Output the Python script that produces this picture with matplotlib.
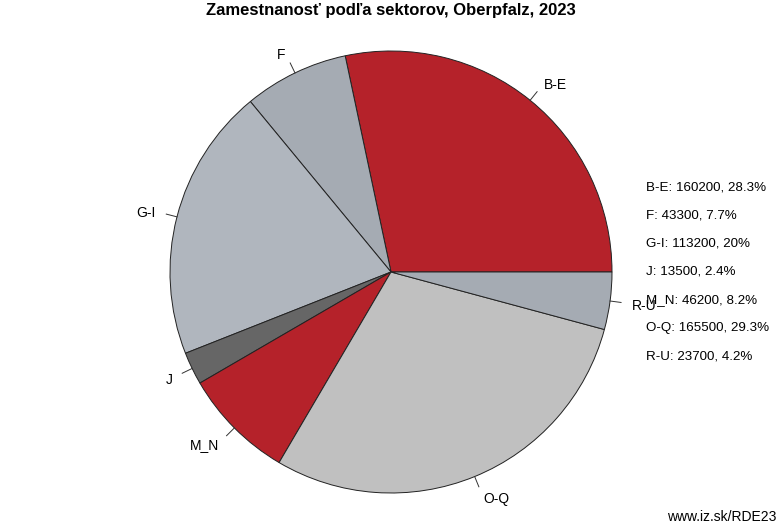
import numpy as np
import matplotlib
matplotlib.use("Agg")
import matplotlib.pyplot as plt

plt.rcParams['font.family'] = ['Liberation Sans', 'DejaVu Sans']

sectors = ["B-E", "F", "G-I", "J", "M_N", "O-Q", "R-U"]
values = [160200, 43300, 113200, 13500, 46200, 165500, 23700]
shares = ["28.3%", "7.7%", "20%", "2.4%", "8.2%", "29.3%", "4.2%"]
colors = ["#b5222a", "#a5abb3", "#b0b6be", "#666666", "#b5222a", "#c0c0c0", "#a5abb3"]

W, H = 782, 532
fig = plt.figure(figsize=(W / 100, H / 100), dpi=100)
ax = fig.add_axes([0, 0, 1, 1])

cx, cy, r = 391, H - 272, 221
wedges, _ = ax.pie(values, colors=colors, startangle=0, counterclock=True,
                   center=(cx, cy), radius=r, frame=True,
                   wedgeprops=dict(edgecolor='#222222', linewidth=0.7))
ax.set_xlim(0, W)
ax.set_ylim(0, H)
ax.axis('off')

# labels with small ticks
for w, name in zip(wedges, sectors):
    ang = np.deg2rad((w.theta1 + w.theta2) / 2)
    c, s = np.cos(ang), np.sin(ang)
    ax.plot([cx + r * c, cx + 1.05 * r * c], [cy + r * s, cy + 1.05 * r * s],
            color='#333333', linewidth=0.7)
    ax.text(cx + 1.1 * r * c, cy + 1.1 * r * s - 2, name, fontsize=10,
            ha='left' if c > 0 else 'right', va='center')

# legend-like text block
for i, (name, v, p) in enumerate(zip(sectors, values, shares)):
    fig.text(646 / W, 1 - (187 + i * 28.2) / H, f"{name}: {v}, {p}",
             fontsize=9.6, ha='left', va='center')

fig.text(0.5, 1 - 11 / H, "Zamestnanosť podľa sektorov, Oberpfalz, 2023",
         fontsize=12, fontweight='bold', ha='center', va='center')
fig.text(776 / W, 1 - 517 / H, "www.iz.sk/RDE23", fontsize=10,
         ha='right', va='center')

fig.savefig("out.png", dpi=100)
